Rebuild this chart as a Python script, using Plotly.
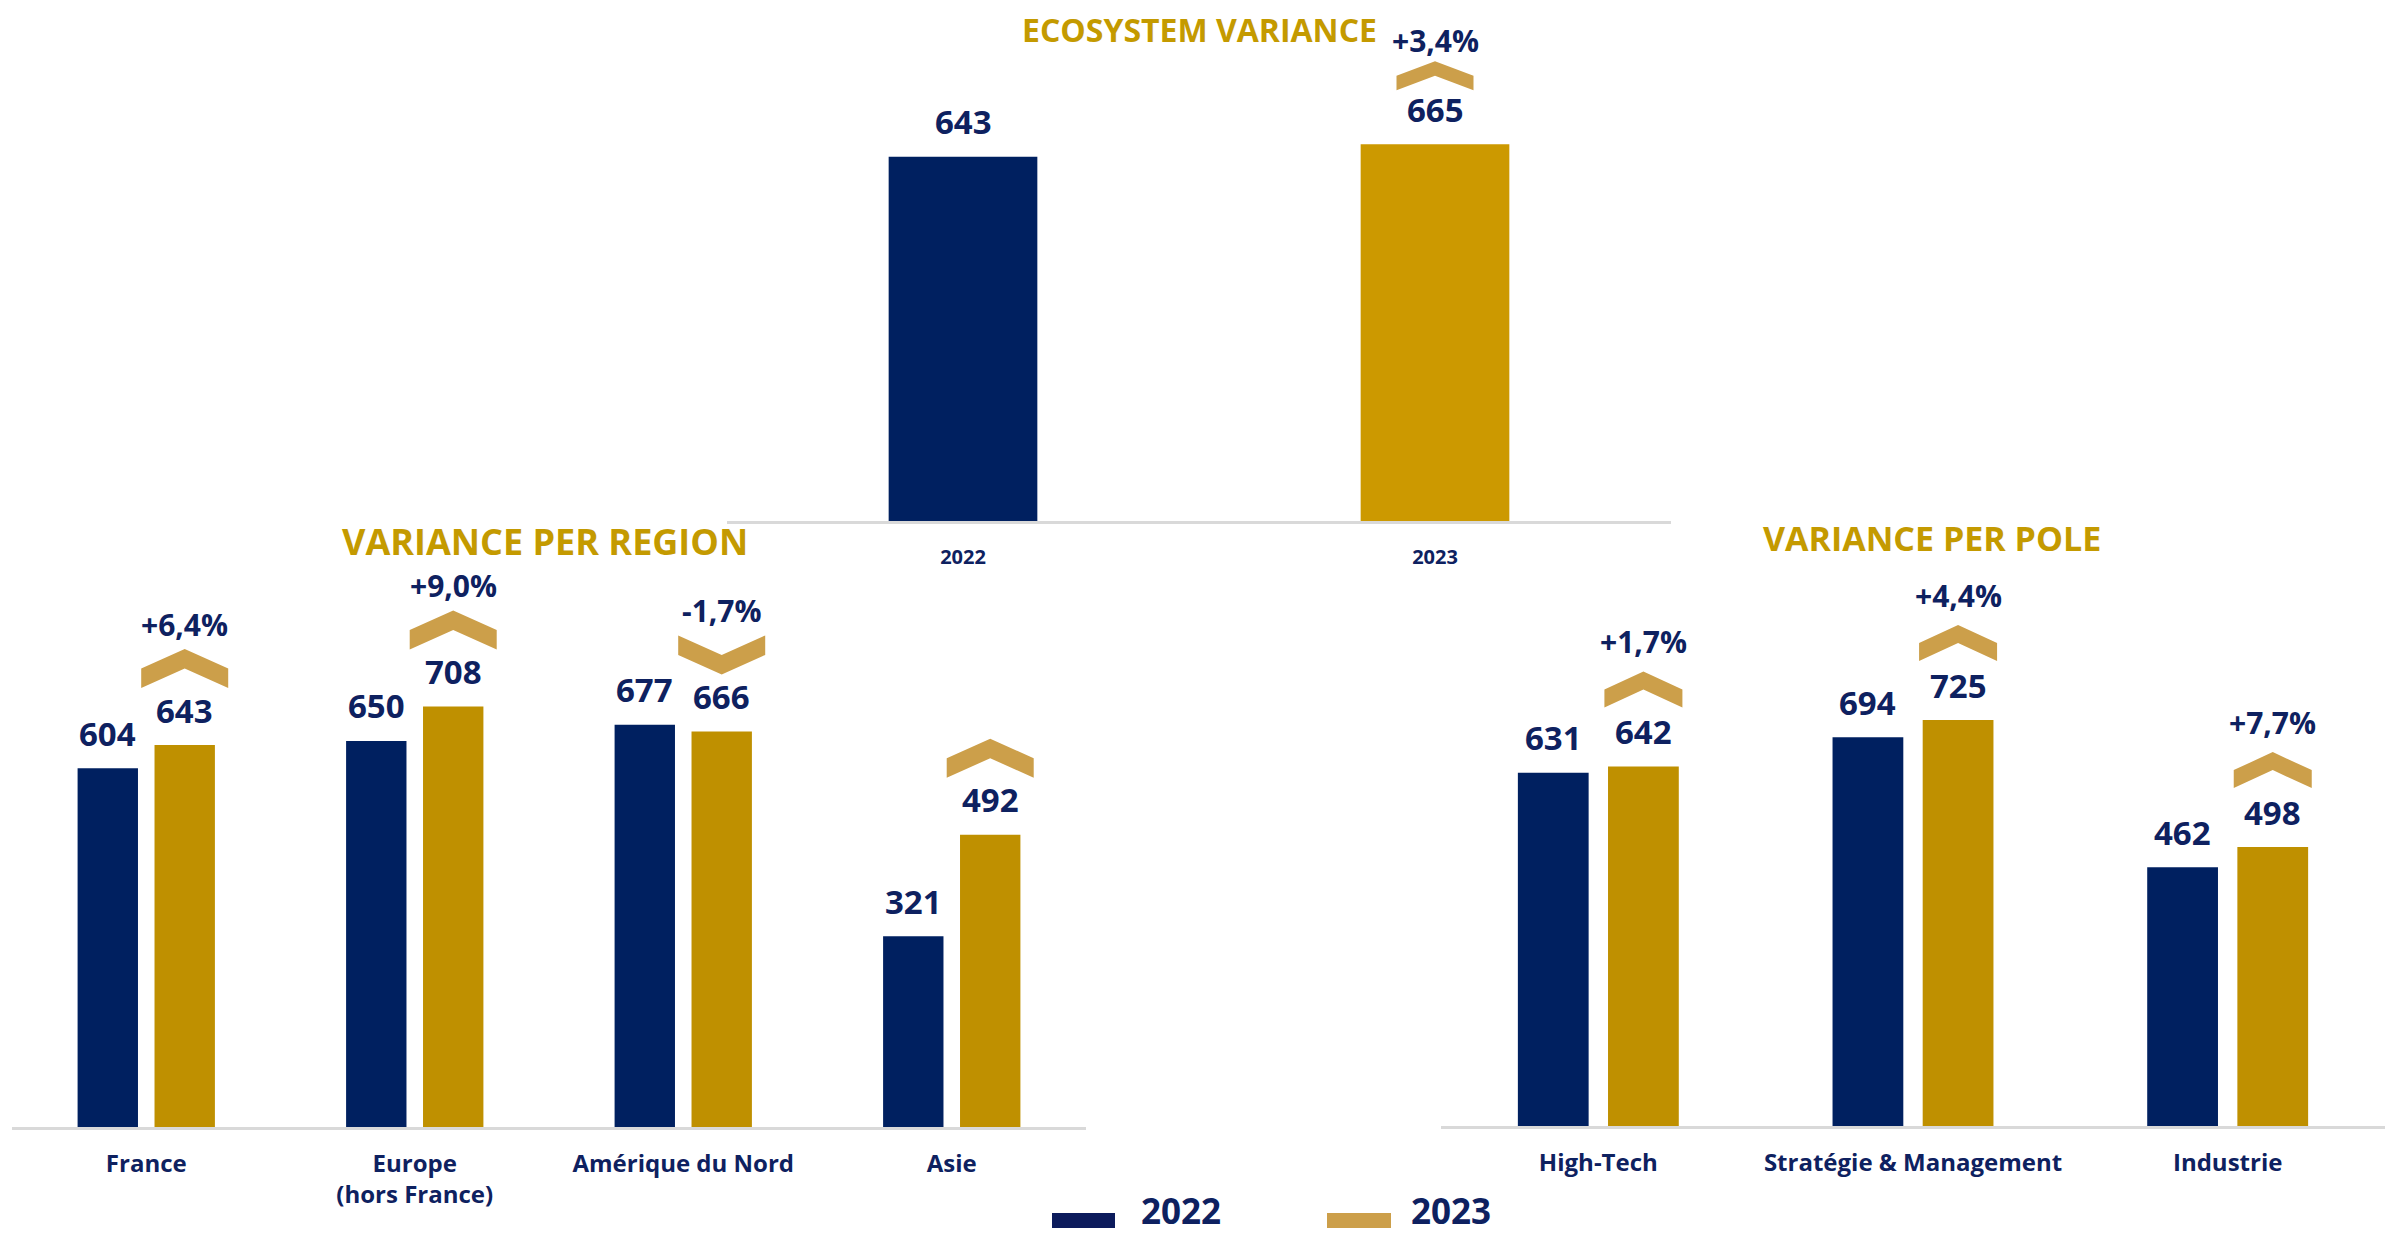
import plotly.graph_objects as go

# ---------------- data ----------------
eco_years = ["2022", "2023"]
eco_values = [643, 665]
eco_change = "+3,4%"

regions = ["France", "Europe<br>(hors France)", "Amérique du Nord", "Asie"]
region_2022 = [604, 650, 677, 321]
region_2023 = [643, 708, 666, 492]
region_change = ["+6,4%", "+9,0%", "-1,7%", ""]

poles = ["High-Tech", "Stratégie & Management", "Industrie"]
pole_2022 = [631, 694, 462]
pole_2023 = [642, 725, 498]
pole_change = ["+1,7%", "+4,4%", "+7,7%"]

series_names = ["2022", "2023"]
titles = ["ECOSYSTEM VARIANCE", "VARIANCE PER REGION", "VARIANCE PER POLE"]

# ---------------- style ----------------
PAGE_W, PAGE_H = 2402, 1244
BODY = 8  # default page margin around the plot
W, H = PAGE_W - 2 * BODY, PAGE_H - 2 * BODY
NAVY = "#002060"
GOLD_TOP = "#CC9900"
GOLD = "#BF9000"
CHEV = "#CC9F4A"
TXT = "#0E2160"
TITLE = "#C49A00"
AXIS = "#D9D9D9"
FONT = "Open Sans, Noto Sans, Liberation Sans, sans-serif"
BARGAP = 0.427
BARGROUPGAP = 0.215
OFF = (1 - BARGAP) / 4


def px(p):
    """screen pixel x -> paper fraction"""
    return (p - BODY) / W


def py(p):
    """screen pixel y -> paper fraction"""
    return 1 - (p - BODY) / H


fig = go.Figure()

fig.add_trace(go.Bar(x=eco_years, y=eco_values, marker_color=[NAVY, GOLD_TOP],
                     width=0.315, xaxis="x", yaxis="y", showlegend=False,
                     marker_line_width=0))
fig.add_trace(go.Bar(x=regions, y=region_2022, name=series_names[0], marker_color=NAVY,
                     xaxis="x2", yaxis="y2", showlegend=False, marker_line_width=0))
fig.add_trace(go.Bar(x=regions, y=region_2023, name=series_names[1], marker_color=GOLD,
                     xaxis="x2", yaxis="y2", showlegend=False, marker_line_width=0))
fig.add_trace(go.Bar(x=poles, y=pole_2022, name=series_names[0], marker_color=NAVY,
                     xaxis="x3", yaxis="y3", showlegend=False, marker_line_width=0))
fig.add_trace(go.Bar(x=poles, y=pole_2023, name=series_names[1], marker_color=GOLD,
                     xaxis="x3", yaxis="y3", showlegend=False, marker_line_width=0))

annotations = []
shapes = []


def chevron_path(w, h, up, dy):
    s = 1 if up else -1
    hw = w / 2
    pts = [(0, s * h / 2), (hw, 0), (hw, -s * h / 2), (0, 0), (-hw, -s * h / 2), (-hw, 0)]
    return "M" + " L".join(f"{x:.1f},{y + dy:.1f}" for x, y in pts) + " Z"


def add_value(xref, yref, x, v, shift=35):
    annotations.append(dict(x=x, y=v, xref=xref, yref=yref, text=str(v), showarrow=False,
                            yanchor="middle", yshift=shift,
                            font=dict(family=FONT, size=33, color=TXT, weight="bold")))


def add_change(xref, yref, x, v, up, text, cw, ch, cdy, tdy):
    shapes.append(dict(type="path", xref=xref, yref=yref, xsizemode="pixel", ysizemode="pixel",
                       xanchor=x, yanchor=v, path=chevron_path(cw, ch, up, cdy),
                       fillcolor=CHEV, line=dict(width=0), layer="above"))
    if text:
        annotations.append(dict(x=x, y=v, xref=xref, yref=yref, text=text, showarrow=False,
                                yanchor="middle", yshift=tdy,
                                font=dict(family=FONT, size=30, color=TXT, weight="bold")))


for i, v in enumerate(eco_values):
    add_value("x", "y", i, v)
add_change("x", "y", 1, eco_values[1], eco_values[1] >= eco_values[0], eco_change, 77, 29, 68.5, 104)

for i, (a, b) in enumerate(zip(region_2022, region_2023)):
    add_value("x2", "y2", i - OFF, a)
    add_value("x2", "y2", i + OFF, b)
    add_change("x2", "y2", i + OFF, b, b >= a, region_change[i], 87, 39, 76.5, 121)

for i, (a, b) in enumerate(zip(pole_2022, pole_2023)):
    add_value("x3", "y3", i - OFF, a)
    add_value("x3", "y3", i + OFF, b)
    add_change("x3", "y3", i + OFF, b, b >= a, pole_change[i], 78, 36, 77, 125)

for t, (cx, cy, fs) in zip(titles, [(1199, 29, 32), (545, 541, 36), (1932, 538, 34)]):
    annotations.append(dict(x=px(cx), y=py(cy), xref="paper", yref="paper", text=t,
                            showarrow=False, xanchor="center", yanchor="middle",
                            font=dict(family=FONT, size=fs, color=TITLE, weight="bold")))

# legend (drawn by hand to match the wide swatches)
for name, col, (x0, x1), tx in zip(series_names, ["#0C1B5C", CHEV], [(1052, 1115), (1327, 1391)],
                                   [1139, 1409]):
    shapes.append(dict(type="rect", xref="paper", yref="paper", x0=px(x0), x1=px(x1),
                       y0=py(1228), y1=py(1213), fillcolor=col, line=dict(width=0)))
    annotations.append(dict(x=px(tx), y=py(1210), xref="paper", yref="paper", text=name,
                            showarrow=False, xanchor="left", yanchor="middle",
                            font=dict(family=FONT, size=35, color=TXT, weight="bold")))

common_x = dict(type="category", showline=True, linecolor=AXIS, linewidth=3, showgrid=False,
                zeroline=False, ticks="", fixedrange=True)
common_y = dict(visible=False, showgrid=False, zeroline=False, fixedrange=True)

fig.update_layout(
    width=W, height=H, margin=dict(l=0, r=0, t=0, b=0),
    paper_bgcolor="white", plot_bgcolor="white",
    barmode="group", bargap=BARGAP, bargroupgap=BARGROUPGAP,
    showlegend=False,
    xaxis=dict(common_x, domain=[px(727), px(1671)], anchor="y", range=[-0.5, 1.5],
               tickfont=dict(family=FONT, size=20, color=TXT, weight="bold"),
               ticklabelstandoff=16),
    yaxis=dict(common_y, domain=[py(521), py(11)], range=[0, 900], anchor="x"),
    xaxis2=dict(common_x, domain=[px(12), px(1086)], anchor="y2", range=[-0.5, 3.5],
                tickfont=dict(family=FONT, size=24, color=TXT, weight="bold"),
                ticklabelstandoff=13),
    yaxis2=dict(common_y, domain=[py(1127), py(533)], range=[0, 1000], anchor="x2"),
    xaxis3=dict(common_x, domain=[px(1441), px(2385)], anchor="y3", range=[-0.5, 2.5],
                tickfont=dict(family=FONT, size=24, color=TXT, weight="bold"),
                ticklabelstandoff=13),
    yaxis3=dict(common_y, domain=[py(1126), py(566)], range=[0, 1000], anchor="x3"),
    annotations=annotations,
    shapes=shapes,
)

fig.write_html("out.html")
